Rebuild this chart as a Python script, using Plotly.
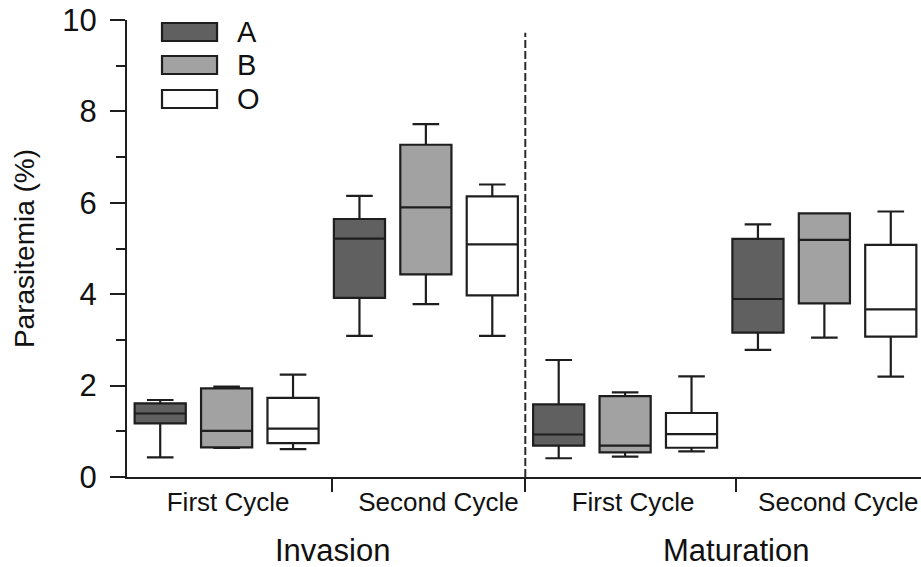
import plotly.graph_objects as go

# ---- data ----
group_pos = [0, 1, 2, 3]  # Invasion-First, Invasion-Second, Maturation-First, Maturation-Second
series = ["A", "B", "O"]
fills = {"A": "#606060", "B": "#a2a2a2", "O": "#ffffff"}

lower = {
    "A": [0.43, 3.09, 0.41, 2.78],
    "B": [0.635, 3.785, 0.445, 3.05],
    "O": [0.61, 3.09, 0.56, 2.195],
}
q1 = {
    "A": [1.175, 3.92, 0.685, 3.16],
    "B": [0.65, 4.435, 0.54, 3.80],
    "O": [0.74, 3.975, 0.64, 3.07],
}
median = {
    "A": [1.39, 5.215, 0.93, 3.895],
    "B": [1.01, 5.90, 0.685, 5.19],
    "O": [1.06, 5.09, 0.94, 3.67],
}
q3 = {
    "A": [1.61, 5.645, 1.59, 5.21],
    "B": [1.94, 7.27, 1.77, 5.77],
    "O": [1.73, 6.14, 1.40, 5.08],
}
upper = {
    "A": [1.685, 6.15, 2.56, 5.53],
    "B": [1.976, 7.72, 1.85, 5.77],
    "O": [2.24, 6.40, 2.20, 5.81],
}

cycle_label_pos = [0.0075, 1.063, 2.04, 3.07]
cycle_labels = ["First Cycle", "Second Cycle", "First Cycle", "Second Cycle"]
tick_marks = [0.531, 1.499, 2.556]
phase_labels = ["Invasion", "Maturation"]
phase_label_pos = [tick_marks[0], tick_marks[2]]
y_ticks = [0, 2, 4, 6, 8, 10]

FONT = "Liberation Sans, Arial, sans-serif"
LINE = "#1e1e1e"

fig = go.Figure()
for s in series:
    fig.add_trace(go.Box(
        name=s,
        x=group_pos,
        q1=q1[s], median=median[s], q3=q3[s],
        lowerfence=lower[s], upperfence=upper[s],
        orientation="v",
        boxpoints=False,
        fillcolor=fills[s],
        line=dict(color=LINE, width=2.2),
        whiskerwidth=0.52,
        showlegend=False,
    ))

# dashed divider between Invasion and Maturation
fig.add_shape(type="line", xref="x", yref="y",
              x0=tick_marks[1], x1=tick_marks[1], y0=0, y1=9.72,
              line=dict(color="#2a2a2a", width=2, dash="8px,3px"))

# manual legend
leg_x0, leg_x1 = 0.0441, 0.1134
leg_rows = [(0.9934, 0.954), (0.9212, 0.8818), (0.8468, 0.8074)]
for s, (ya, yb) in zip(series, leg_rows):
    fig.add_shape(type="rect", xref="paper", yref="paper",
                  x0=leg_x0, x1=leg_x1, y0=yb, y1=ya,
                  fillcolor=fills[s], line=dict(color=LINE, width=2.2))
    fig.add_annotation(xref="paper", yref="paper", x=0.136, y=(ya + yb) / 2,
                       text=s, showarrow=False, xanchor="left", yanchor="middle",
                       font=dict(family=FONT, size=29, color="#111"))

# phase labels
for t, xp in zip(phase_labels, phase_label_pos):
    fig.add_annotation(xref="x", yref="paper", x=xp, y=-0.118,
                       text=t, showarrow=False, xanchor="center", yanchor="top",
                       font=dict(family=FONT, size=31, color="#111"))

fig.update_layout(
    width=921, height=567,
    margin=dict(l=127, r=0, t=20, b=90),
    paper_bgcolor="white", plot_bgcolor="white",
    boxmode="group", boxgap=0, boxgroupgap=0.23,
    showlegend=False,
    font=dict(family=FONT, color="#111"),
)
fig.update_xaxes(
    range=[-0.5, 3.485],
    showgrid=False, zeroline=False,
    showline=True, linecolor=LINE, linewidth=2,
    tickmode="array", tickvals=cycle_label_pos, ticktext=cycle_labels,
    ticks="", ticklabelstandoff=1,
    tickfont=dict(family=FONT, size=26, color="#111"),
    minor=dict(tickmode="array", tickvals=tick_marks, ticks="outside",
               ticklen=13, tickwidth=2, tickcolor=LINE, showgrid=False),
)
fig.update_yaxes(
    range=[0, 10],
    showgrid=False, zeroline=False,
    showline=True, linecolor=LINE, linewidth=2,
    tickmode="array", tickvals=y_ticks,
    ticks="outside", ticklen=15, tickwidth=2, tickcolor=LINE,
    ticklabelstandoff=7,
    tickfont=dict(family=FONT, size=31, color="#111"),
    minor=dict(dtick=1, ticks="outside", ticklen=9, tickwidth=2, tickcolor=LINE, showgrid=False),
    title=dict(text="Parasitemia (%)", standoff=20,
               font=dict(family=FONT, size=28, color="#111")),
)

fig.write_html("out.html", config={"displayModeBar": False},
               post_script="document.body.style.margin='0';")
